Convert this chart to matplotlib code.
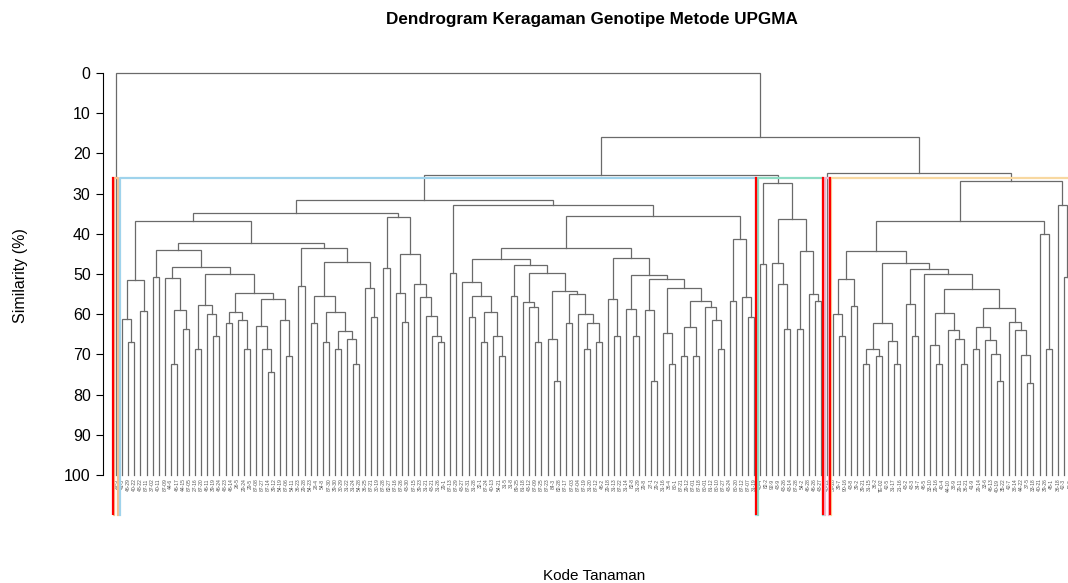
import matplotlib
matplotlib.use("Agg")
import matplotlib.pyplot as plt

plt.rcParams['font.family'] = ['Liberation Sans', 'DejaVu Sans']

# leaf labels in dendrogram order (left to right)
labels = [
    "29-3", "41-3", "46-29", "40-22", "48-22", "87-11", "37-02", "40-11", "87-09", "44-6",
    "46-17", "44-15", "87-05", "27-16", "87-20", "46-11", "39-19", "46-24", "48-23", "46-14",
    "26-5", "29-24", "29-5", "87-08", "87-27", "87-14", "39-12", "54-19", "87-06", "54-11",
    "36-23", "29-28", "54-23", "28-4", "54-8", "87-30", "39-30", "30-29", "31-22", "31-24",
    "54-28", "36-25", "87-21", "30-19", "87-28", "82-27", "87-16", "87-26", "43-30", "87-15",
    "39-23", "31-21", "43-21", "31-26", "29-1", "87-13", "87-29", "43-27", "87-31", "31-28",
    "32-1", "87-24", "40-13", "54-21", "31-5", "31-8", "89-25", "81-18", "43-12", "87-09",
    "87-25", "87-23", "84-3", "82-28", "87-17", "87-03", "87-04", "87-19", "31-20", "87-12",
    "46-2", "29-18", "31-13", "87-22", "31-14", "82-8", "31-29", "29-8", "27-1", "29-2",
    "31-16", "36-4", "80-1", "87-21", "29-12", "87-01", "87-18", "80-01", "81-12", "80-10",
    "87-27", "43-24", "80-20", "87-12", "87-07", "31-19", "43-4", "82-2", "92-9", "43-9",
    "43-26", "43-14", "87-28", "54-2", "46-28", "46-26", "43-27", "40-12", "39-28", "39-7",
    "90-16", "43-8", "39-2", "39-21", "31-15", "36-2", "TE-02", "42-5", "31-17", "21-16",
    "43-2", "43-3", "34-7", "46-5", "33-10", "29-16", "40-4", "44-10", "38-9", "29-11",
    "36-21", "41-9", "29-14", "33-6", "46-13", "40-19", "35-22", "42-7", "38-14", "44-22",
    "37-5", "33-18", "40-21", "39-26", "45-1", "36-18", "42-3", "43-5",
]

# merges: (similarity, left, right); ints are leaf positions (1-based)
grp_2_6 = (51.5, (61.1, 2, (66.8, 3, 4)), (59.3, 5, 6))
grp_7_30 = (44.0, (50.8, 7, 8),
            (48.2,
             (51.1, 9, (58.9, (72.3, 10, 11), (63.6, 12, 13))),
             (50.1,
              (57.7, (68.6, 14, 15), (60.0, 16, (65.3, 17, 18))),
              (54.7,
               (59.4, (62.1, 19, 20), (61.4, 21, (68.6, 22, 23))),
               (56.1, (63.0, 24, (68.6, 25, (74.3, 26, 27))),
                (61.4, 28, (70.4, 29, 30)))))))
grp_31_44 = (43.6, (53.1, 31, 32),
             (47.0,
              (55.4, (62.2, 33, 34),
               (59.4, (66.8, 35, 36),
                (64.1, (68.6, 37, 38), (66.2, 39, (72.3, 40, 41))))),
              (53.5, 42, (60.8, 43, 44))))
grp_45_55 = (35.9, (48.6, 45, 46),
             (45.1, (54.6, 47, (62.0, 48, 49)),
              (52.4, 50, (55.6, 51, (60.5, 52, (65.3, 53, (66.8, 54, 55)))))))
grp_58_65 = (52.1, 58, (55.4, (60.8, 59, 60),
                        (59.5, (66.8, 61, 62), (65.3, 63, (70.4, 64, 65)))))
grp_66_81 = (47.8, (55.5, 66, 67),
             (49.7,
              (56.9, 68, (58.1, 69, (66.8, 70, 71))),
              (54.2, (66.2, 72, (76.5, 73, 74)),
               (55.0, (62.1, 75, 76),
                (60.0, 77, (62.3, (68.6, 78, 79), (66.9, 80, 81)))))))
grp_82_101 = (45.9, (56.1, 82, (65.3, 83, 84)),
              (50.3, (58.8, 85, (65.3, 86, 87)),
               (51.2, (59.0, 88, (76.5, 89, 90)),
                (53.6, (64.6, 91, (72.3, 92, 93)),
                 (56.6, (63.3, (70.4, 94, 95), (70.4, 96, 97)),
                  (58.1, 98, (61.5, 99, (68.6, 100, 101))))))))
grp_102_106 = (41.3, (56.6, 102, 103), (55.7, 104, (60.8, 105, 106)))
grp_blue = (31.5,
            (34.8, (36.7, grp_2_6, (42.3, grp_7_30, grp_31_44)), grp_45_55),
            (32.9, (49.7, 56, 57),
             (35.6, (43.6, (46.2, grp_58_65, grp_66_81), grp_82_101), grp_102_106)))
grp_teal = (27.4, (47.6, 107, 108),
            (36.4, (47.3, 109, (52.4, 110, (63.6, 111, 112))),
             (44.3, (63.6, 113, 114), (54.9, 115, (56.6, 116, 117)))))
grp_o1 = (51.2, (60.0, 119, (65.3, 120, 121)), (58.0, 122, 123))
grp_o2 = (62.2, (68.6, (72.3, 124, 125), (70.4, 126, 127)),
          (66.6, 128, (72.3, 129, 130)))
grp_o3 = (57.4, 131, (65.3, 132, 133))
grp_o4 = (59.8, (67.7, 135, (72.3, 136, 137)),
          (63.9, 138, (66.2, 139, (72.3, 140, 141))))
grp_o5 = (58.5, (63.3, (68.6, 142, 143), (66.5, 144, (69.8, 145, (76.5, 146, 147)))),
          (61.9, 148, (64.0, 149, (70.2, 150, (77.0, 151, 152)))))
grp_orange = (26.8,
              (36.7, (44.4, grp_o1, (47.3, grp_o2, (48.8, grp_o3, (50.0, 134, (53.8, grp_o4, grp_o5))))),
               (40.1, 153, (68.6, 154, 155))),
              (32.8, 156, (50.8, 157, 158)))
tree = (0.0, 1, (15.9, (25.3, grp_blue, grp_teal), (24.8, 118, grp_orange)))

# cut clusters (first leaf, last leaf) and their box colours
clusters = [(1, 1), (2, 106), (107, 117), (118, 118), (119, 158)]
cluster_colors = ['#F6C08E', '#9FD3EC', '#8EDCC4', '#F2B6CE', '#F8D8A0']
cut_height = 26.0

segs = []


def walk(node):
    if isinstance(node, int):
        return float(node), 100.0
    h, a, b = node
    xa, ha = walk(a)
    xb, hb = walk(b)
    segs.append(([xa, xa, xb, xb], [ha, h, h, hb]))
    return (xa + xb) / 2, h


walk(tree)

W, H = 1068, 583
fig = plt.figure(figsize=(W / 100, H / 100), dpi=100)
ax = fig.add_axes([110.1 / W, 1 - 515.2 / H, 972 / W, 446.2 / H])
ax.set_xlim(0, 160)
ax.set_ylim(110, -1)

for xs, ys in segs:
    ax.plot(xs, ys, color='#6a6a6a', lw=0.9, solid_joinstyle='miter')

for i, lab in enumerate(labels, start=1):
    ax.text(i, 100.9, lab, rotation=90, ha='center', va='top', fontsize=3.6,
            color='#555555')

# cluster boxes like rect.hclust
for (a, b), c in zip(clusters, cluster_colors):
    left, right = a - 0.34, b + 0.33
    ax.plot([left, left, right, right], [110, cut_height, cut_height, 110],
            color=c, lw=1.6, clip_on=False, zorder=3)

# red borders
red_edges = [clusters[0][0] - 0.5, clusters[1][1] + 0.32,
             clusters[2][1] + 0.35, clusters[4][0] - 0.45]
for xr in red_edges:
    ax.plot([xr, xr], [cut_height, 110], color='#FF0000', lw=1.6, zorder=4)

for s in ['top', 'right', 'bottom']:
    ax.spines[s].set_visible(False)
ax.spines['left'].set_position(('outward', 5))
ax.spines['left'].set_bounds(0, 100)
ax.spines['left'].set_linewidth(0.8)
ax.set_xticks([])
ax.set_yticks(range(0, 101, 10))
ax.tick_params(axis='y', length=5, width=0.8, pad=4, labelsize=11.5)

fig.text(0.554, 0.966, "Dendrogram Keragaman Genotipe Metode UPGMA",
         ha='center', va='center', fontsize=12.3, fontweight='bold')
fig.text(0.556, 0.012, "Kode Tanaman", ha='center', va='center', fontsize=11)
fig.text(0.019, 0.528, "Similarity (%)", ha='center', va='center',
         rotation=90, fontsize=11.5)

fig.savefig("out.png", dpi=100)
